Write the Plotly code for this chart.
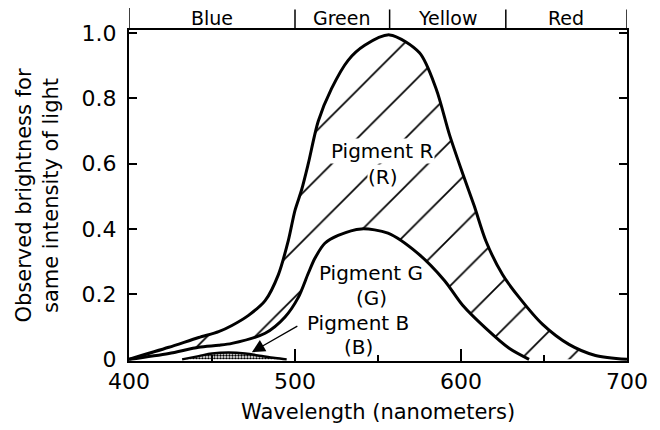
import plotly.graph_objects as go

# Readings from the figure (wavelength in nm, relative brightness)
wl_r = [400, 424, 442, 454, 462, 472, 482, 490, 496, 500, 504, 508, 514, 522, 532, 542,
        557, 575, 585, 593, 601, 608, 615, 625, 635, 649, 665, 681, 700]
pig_r = [0, 0.037, 0.067, 0.085, 0.104, 0.135, 0.18, 0.26, 0.365, 0.457, 0.52, 0.60, 0.73,
         0.83, 0.917, 0.963, 0.995, 0.94, 0.83, 0.69, 0.57, 0.47, 0.363, 0.26, 0.19, 0.108,
         0.046, 0.012, 0]

wl_g = [400, 424, 442, 454, 462, 482, 494, 502, 508, 512, 518, 526, 540, 556, 574, 590,
        601, 615, 629, 641, 660, 680, 700]
pig_g = [0, 0.018, 0.037, 0.043, 0.049, 0.08, 0.13, 0.19, 0.264, 0.31, 0.356, 0.38, 0.40,
         0.387, 0.325, 0.242, 0.166, 0.095, 0.034, 0, 0, 0, 0]

wl_b = [432, 442, 450, 460, 470, 480, 488, 495]
pig_b = [0, 0.01, 0.018, 0.021, 0.018, 0.01, 0.004, 0]

band_names = ["Blue", "Green", "Yellow", "Red"]
band_edges = [400, 500, 557, 627, 700]

y_ticks = [0, 0.2, 0.4, 0.6, 0.8, 1.0]
y_labels = ["0", "0.2", "0.4", "0.6", "0.8", "1.0"]
x_ticks = [400, 500, 600, 700]

FONT = "DejaVu Sans"

fig = go.Figure()

# lower bound of the hatched region (G, then the axis)
fig.add_trace(go.Scatter(x=wl_g, y=pig_g, mode="lines", line=dict(width=0, shape="spline"),
                         hoverinfo="skip", showlegend=False))
# pigment R with hatching down to G
fig.add_trace(go.Scatter(x=wl_r, y=pig_r, mode="lines", fill="tonexty",
                         fillcolor="rgba(0,0,0,0)",
                         fillpattern=dict(shape="/", fgcolor="black", fgopacity=1,
                                          bgcolor="rgba(0,0,0,0)", size=34, solidity=0.05),
                         line=dict(color="black", width=3, shape="spline", smoothing=0.8),
                         showlegend=False))
# pigment G
n_g = wl_g.index(641) + 1
fig.add_trace(go.Scatter(x=wl_g[:n_g], y=pig_g[:n_g], mode="lines",
                         line=dict(color="black", width=3, shape="spline", smoothing=0.8),
                         showlegend=False))
# pigment B, stippled
fig.add_trace(go.Scatter(x=wl_b, y=pig_b, mode="lines", fill="tozeroy",
                         fillcolor="rgba(0,0,0,0)",
                         fillpattern=dict(shape=".", fgcolor="black", fgopacity=1,
                                          bgcolor="white", size=3, solidity=0.5),
                         line=dict(color="black", width=2.5, shape="spline"),
                         showlegend=False))

# colour band above the plot
for e in band_edges:
    fig.add_shape(type="line", xref="x", yref="paper", x0=e, x1=e, y0=1,
                  y1=1.07 if e == 400 else 1.062, line=dict(color="black", width=1.5))
for i, name in enumerate(band_names):
    fig.add_annotation(x=(band_edges[i] + band_edges[i + 1]) / 2, y=1.036, xref="x", yref="paper",
                       yanchor="middle", text=name, showarrow=False,
                       font=dict(family=FONT, size=19, color="black"))

# labels
lab = dict(family=FONT, size=20, color="black")
fig.add_annotation(x=553, y=0.64, text="Pigment R", showarrow=False, font=lab,
                   bgcolor="white", borderpad=0)
fig.add_annotation(x=553, y=0.56, text="(R)", showarrow=False, font=lab,
                   bgcolor="white", borderpad=0)
fig.add_annotation(x=546, y=0.264, text="Pigment G", showarrow=False, font=lab)
fig.add_annotation(x=546, y=0.187, text="(G)", showarrow=False, font=lab)
fig.add_annotation(x=538, y=0.113, text="Pigment B", showarrow=False, font=lab)
fig.add_annotation(x=538, y=0.037, text="(B)", showarrow=False, font=lab)
fig.add_annotation(x=474, y=0.022, text="", showarrow=True, ax=47, ay=-27,
                   arrowhead=2, arrowsize=2, arrowwidth=1.3, arrowcolor="black")

fig.add_annotation(x=0, y=0.5, xref="paper", yref="paper", xshift=-92,
                   xanchor="center", yanchor="middle",
                   text="Observed brightness for<br>same intensity of light", textangle=-90,
                   showarrow=False, font=dict(family=FONT, size=21, color="black"))
fig.add_annotation(x=0.5, y=0, xref="paper", yref="paper", yshift=-51,
                   xanchor="center", yanchor="middle",
                   text="Wavelength (nanometers)", showarrow=False,
                   font=dict(family=FONT, size=21, color="black"))

fig.update_xaxes(range=[400, 700], tickvals=x_ticks, ticks="inside", ticklen=12, tickwidth=1.5,
                 tickcolor="black", showline=True, linecolor="black", linewidth=2, mirror=True,
                 showgrid=False, zeroline=False, ticklabelstandoff=0,
                 minor=dict(dtick=50, ticks="inside", ticklen=6, tickcolor="black"),
                 tickfont=dict(family=FONT, size=22, color="black"))
fig.update_yaxes(range=[-0.005, 1.01], tickvals=y_ticks, ticktext=y_labels, ticks="inside",
                 ticklen=8, tickwidth=1.5, tickcolor="black", showline=True, linecolor="black",
                 linewidth=2, mirror="ticks", showgrid=False, zeroline=False,
                 ticklabelstandoff=6, tickfont=dict(family=FONT, size=22, color="black"))

# the page body adds an 8px offset, so the figure is 8px smaller on each side
fig.update_layout(width=652, height=422, margin=dict(l=121, r=28, t=22, b=69),
                  plot_bgcolor="white", paper_bgcolor="white", showlegend=False)

fig.write_html("out.html")
